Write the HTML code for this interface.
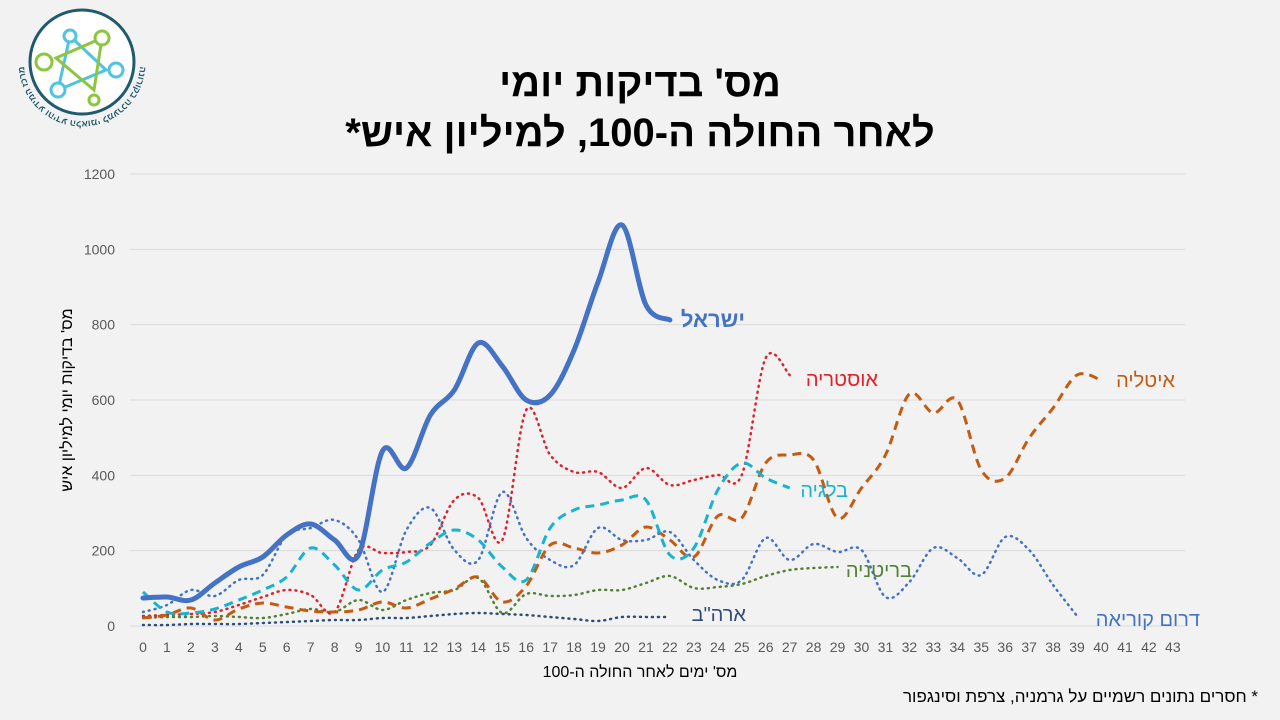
<!DOCTYPE html>
<html><head><meta charset="utf-8"><style>
body{margin:0;background:#f2f2f2;}
svg{display:block;font-family:"Liberation Sans","Noto Sans CJK SC",sans-serif;}
</style></head><body>
<svg id="s" width="1280" height="720" viewBox="0 0 1280 720">
<rect width="1280" height="720" fill="#f2f2f2"/>
<text x="640" y="96" text-anchor="middle" font-size="40" font-weight="bold" fill="#000">מס' בדיקות יומי</text>
<text x="640" y="146" text-anchor="middle" font-size="40" font-weight="bold" fill="#000">*לאחר החולה ה-100, למיליון איש</text>
<g id="grid"></g>
<g id="series"></g>
<text transform="translate(72,400) rotate(-90)" text-anchor="middle" font-size="16" fill="#000">מס' בדיקות יומי למיליון איש</text>
<text x="640" y="677" text-anchor="middle" font-size="16" fill="#000">מס' ימים לאחר החולה ה-100</text>
<text x="1258" y="702" text-anchor="end" font-size="17" fill="#000">חסרים נתונים רשמיים על גרמניה, צרפת וסינגפור *</text>
<text x="745" y="327" text-anchor="end" font-size="22" font-weight="bold" fill="#4472c4">ישראל</text>
<text x="878" y="386" text-anchor="end" font-size="20" fill="#e0202a">אוסטריה</text>
<text x="1175" y="387" text-anchor="end" font-size="20" fill="#c55a11">איטליה</text>
<text x="848" y="497" text-anchor="end" font-size="20" fill="#17b3d0">בלגיה</text>
<text x="912" y="577" text-anchor="end" font-size="20" fill="#548235">בריטניה</text>
<text x="746" y="621" text-anchor="end" font-size="20" fill="#2f4d7c">ארה"ב</text>
<text x="1200" y="626" text-anchor="end" font-size="20" fill="#4472c4">דרום קוריאה</text>
<g transform="translate(82,62)">
<circle r="52" fill="#fff" stroke="#1f5a6e" stroke-width="3"/>
<path id="arc" d="M 49,-30 A 58,58 0 1 1 -49,-30" fill="none"/>
<text font-size="9" font-weight="bold" fill="#1f5a6e"><textPath href="#arc" startOffset="50%" text-anchor="middle">מרכז המידע והידע הלאומי למערכה בקורונה</textPath></text>
<polygon points="-12,-26 24,8 -24,28" fill="none" stroke="#4fc3e0" stroke-width="3"/>
<polygon points="20,-24 -26,-4 12,28" fill="none" stroke="#8cc63f" stroke-width="3"/>
<circle cx="-12" cy="-26" r="6" fill="#fff" stroke="#4fc3e0" stroke-width="3"/>
<circle cx="34" cy="8" r="7" fill="#fff" stroke="#4fc3e0" stroke-width="3"/>
<circle cx="-24" cy="28" r="7" fill="#fff" stroke="#4fc3e0" stroke-width="3"/>
<circle cx="20" cy="-24" r="7" fill="#fff" stroke="#8cc63f" stroke-width="3"/>
<circle cx="-38" cy="0" r="8" fill="#fff" stroke="#8cc63f" stroke-width="3"/>
<circle cx="12" cy="38" r="5" fill="#fff" stroke="#8cc63f" stroke-width="3"/>
</g>
</svg>
<script>
const NS="http://www.w3.org/2000/svg";
const X=i=>143+23.95*i;
const g=document.getElementById('grid'),S=document.getElementById('series');
function el(p,t,a,txt){const e=document.createElementNS(NS,t);for(const k in a)e.setAttribute(k,a[k]);if(txt!==undefined)e.textContent=txt;p.appendChild(e);return e;}
for(let v=0;v<=1200;v+=200){const y=626-v*452/1200;
el(g,'line',{x1:130,x2:1185,y1:y,y2:y,stroke:'#d9d9d9','stroke-width':1});
el(g,'text',{x:115,y:y+5,'text-anchor':'end','font-size':14,fill:'#595959'},v);}
for(let i=0;i<=43;i++)el(g,'text',{x:X(i),y:652,'text-anchor':'middle','font-size':14,fill:'#595959'},i);
function path(ys){const p=ys.map((y,i)=>[X(i),y]);let d=`M${p[0][0]},${p[0][1]}`;
for(let i=0;i<p.length-1;i++){const p0=p[i-1]||p[i],p1=p[i],p2=p[i+1],p3=p[i+2]||p2;
d+=` C${p1[0]+(p2[0]-p0[0])/6},${p1[1]+(p2[1]-p0[1])/6} ${p2[0]-(p3[0]-p1[0])/6},${p2[1]-(p3[1]-p1[1])/6} ${p2[0]},${p2[1]}`;}return d;}
const series=[
{c:'#4472c4',w:2.5,da:'1 5',ys:[612,605,590,596,580,575,535,528,520,540,592,530,508,550,560,492,538,560,565,528,540,540,532,560,580,580,538,560,544,552,550,597,582,548,558,575,537,550,585,616]},
{c:'#2f4d7c',w:2.5,da:'1 5',ys:[625,625,624,624,624,623,622,621,620,620,618,618,616,614,613,614,615,617,619,621,617,617,617]},
{c:'#548235',w:2.5,da:'1 5',ys:[618,617,617,616,617,618,614,609,612,600,610,600,593,590,578,613,594,596,595,590,590,583,576,588,587,584,576,570,568,567]},
{c:'#e0202a',w:2.5,da:'1 5',ys:[616,615,614,612,605,597,590,595,612,550,553,552,545,500,498,540,410,455,472,472,488,468,485,480,475,475,358,375]},
{c:'#c55a11',w:3,da:'9 6',ys:[618,615,608,620,609,603,607,611,612,610,602,608,599,589,577,602,586,545,548,553,545,527,540,557,516,518,463,455,460,518,488,455,394,413,400,470,478,438,408,375,380]},
{c:'#17b3d0',w:3,da:'9 6',ys:[592,612,613,609,600,590,577,548,565,590,570,562,543,530,540,567,580,528,510,505,500,500,555,548,490,463,478,488]},
{c:'#4472c4',w:5,da:'',ys:[598,597,600,583,567,557,535,524,540,555,451,468,415,390,343,366,400,395,350,282,225,305,320]}];
for(const s of series){const a={d:path(s.ys),fill:'none',stroke:s.c,'stroke-width':s.w,'stroke-linecap':'round','stroke-linejoin':'round'};if(s.da)a['stroke-dasharray']=s.da;if(s.w==3)a['stroke-linecap']='butt';el(S,'path',a);}
</script>
</body></html>
